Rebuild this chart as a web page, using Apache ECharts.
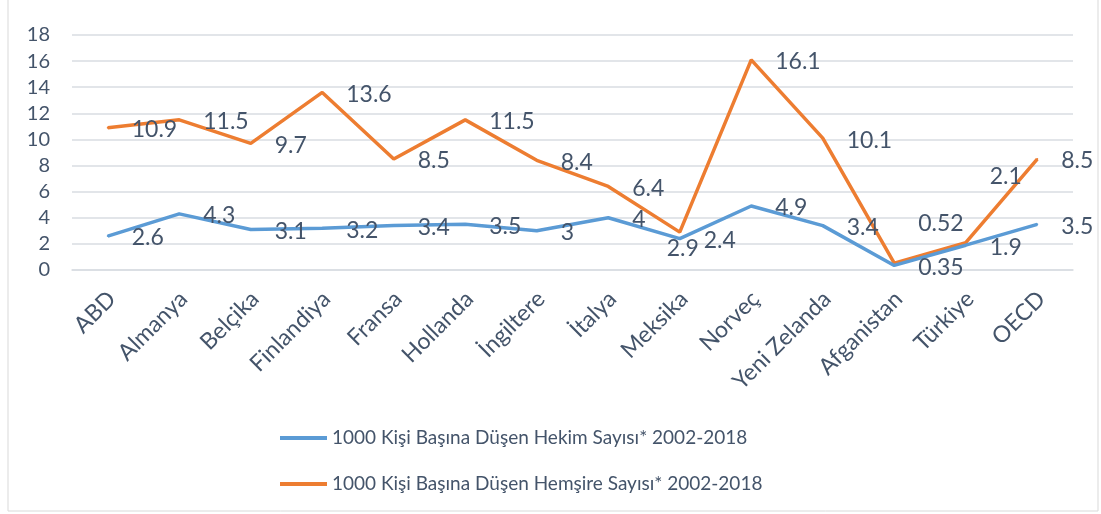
<!DOCTYPE html>
<html>
<head>
<meta charset="utf-8">
<script src="https://cdn.jsdelivr.net/npm/echarts@6/dist/echarts.min.js"></script>
<style>
  html, body { margin: 0; padding: 0; background: #fff; }
  #main { width: 1101px; height: 514px; }
</style>
</head>
<body>
<div id="main"></div>
<script>
  // veriler
  var ulkeler = ['ABD', 'Almanya', 'Belçika', 'Finlandiya', 'Fransa', 'Hollanda', 'İngiltere',
    'İtalya', 'Meksika', 'Norveç', 'Yeni Zelanda', 'Afganistan', 'Türkiye', 'OECD'];
  var hekim = [2.6, 4.3, 3.1, 3.2, 3.4, 3.5, 3, 4, 2.4, 4.9, 3.4, 0.35, 1.9, 3.5];
  var hemsire = [10.9, 11.5, 9.7, 13.6, 8.5, 11.5, 8.4, 6.4, 2.9, 16.1, 10.1, 0.52, 2.1, 8.5];
  var yTicks = [0, 2, 4, 6, 8, 10, 12, 14, 16, 18];

  var textColor = '#44546a';
  var fontName = 'Lato, "Open Sans", sans-serif';

  // elle kaydirilmis etiketler (Excel'deki gibi)
  var hemsireEtiketKaydir = { 8: [-37, 16], 11: [0, -40], 12: [0, -66] };

  function etiketliVeri(values, kaydir) {
    return values.map(function (v, i) {
      if (kaydir && kaydir[i]) {
        return { value: v, label: { offset: kaydir[i] } };
      }
      return v;
    });
  }

  var myChart = echarts.init(document.getElementById('main'));

  var seriesLabel = {
    show: true,
    position: 'right',
    distance: 23,
    offset: [0, 2],
    color: textColor,
    fontFamily: fontName,
    fontSize: 23
  };

  var option = {
    animation: false,
    textStyle: { fontFamily: fontName },
    grid: { left: 72, right: 28, top: 35, bottom: 244 },
    legend: {
      orient: 'vertical',
      left: 275,
      top: 421,
      icon: 'rect',
      itemWidth: 47,
      itemHeight: 4,
      itemGap: 22,
      textStyle: { color: textColor, fontSize: 19, lineHeight: 24, fontFamily: fontName },
      data: ['1000 Kişi Başına Düşen Hekim Sayısı* 2002-2018', '1000 Kişi Başına Düşen Hemşire Sayısı* 2002-2018']
    },
    xAxis: {
      type: 'category',
      data: ulkeler,
      boundaryGap: true,
      axisLine: { show: true, lineStyle: { color: '#d9dde2', width: 1.5 } },
      axisTick: { show: false },
      axisLabel: {
        rotate: 45,
        margin: 21,
        verticalAlign: 'top',
        lineHeight: 12,
        color: textColor,
        fontSize: 23,
        fontFamily: fontName,
        interval: 0
      }
    },
    yAxis: {
      type: 'value',
      min: yTicks[0],
      max: yTicks[yTicks.length - 1],
      interval: 2,
      axisLine: { show: false },
      axisTick: { show: false },
      axisLabel: { margin: 22, color: textColor, fontSize: 20, fontFamily: fontName },
      splitLine: { lineStyle: { color: '#d9dde2', width: 1.5 } }
    },
    graphic: [{
      type: 'rect',
      shape: { x: 8, y: -2, width: 1090, height: 513 },
      style: { fill: 'none', stroke: '#d9d9d9', lineWidth: 1 },
      silent: true
    }],
    series: [
      {
        name: '1000 Kişi Başına Düşen Hekim Sayısı* 2002-2018',
        type: 'line',
        data: etiketliVeri(hekim),
        symbol: 'circle',
        symbolSize: 2,
        itemStyle: { color: '#5b9bd5' },
        lineStyle: { color: '#5b9bd5', width: 3.5 },
        label: seriesLabel,
        z: 3
      },
      {
        name: '1000 Kişi Başına Düşen Hemşire Sayısı* 2002-2018',
        type: 'line',
        data: etiketliVeri(hemsire, hemsireEtiketKaydir),
        symbol: 'circle',
        symbolSize: 2,
        itemStyle: { color: '#ed7d31' },
        lineStyle: { color: '#ed7d31', width: 3.5 },
        label: seriesLabel,
        z: 2
      }
    ]
  };

  myChart.setOption(option);
</script>
</body>
</html>
